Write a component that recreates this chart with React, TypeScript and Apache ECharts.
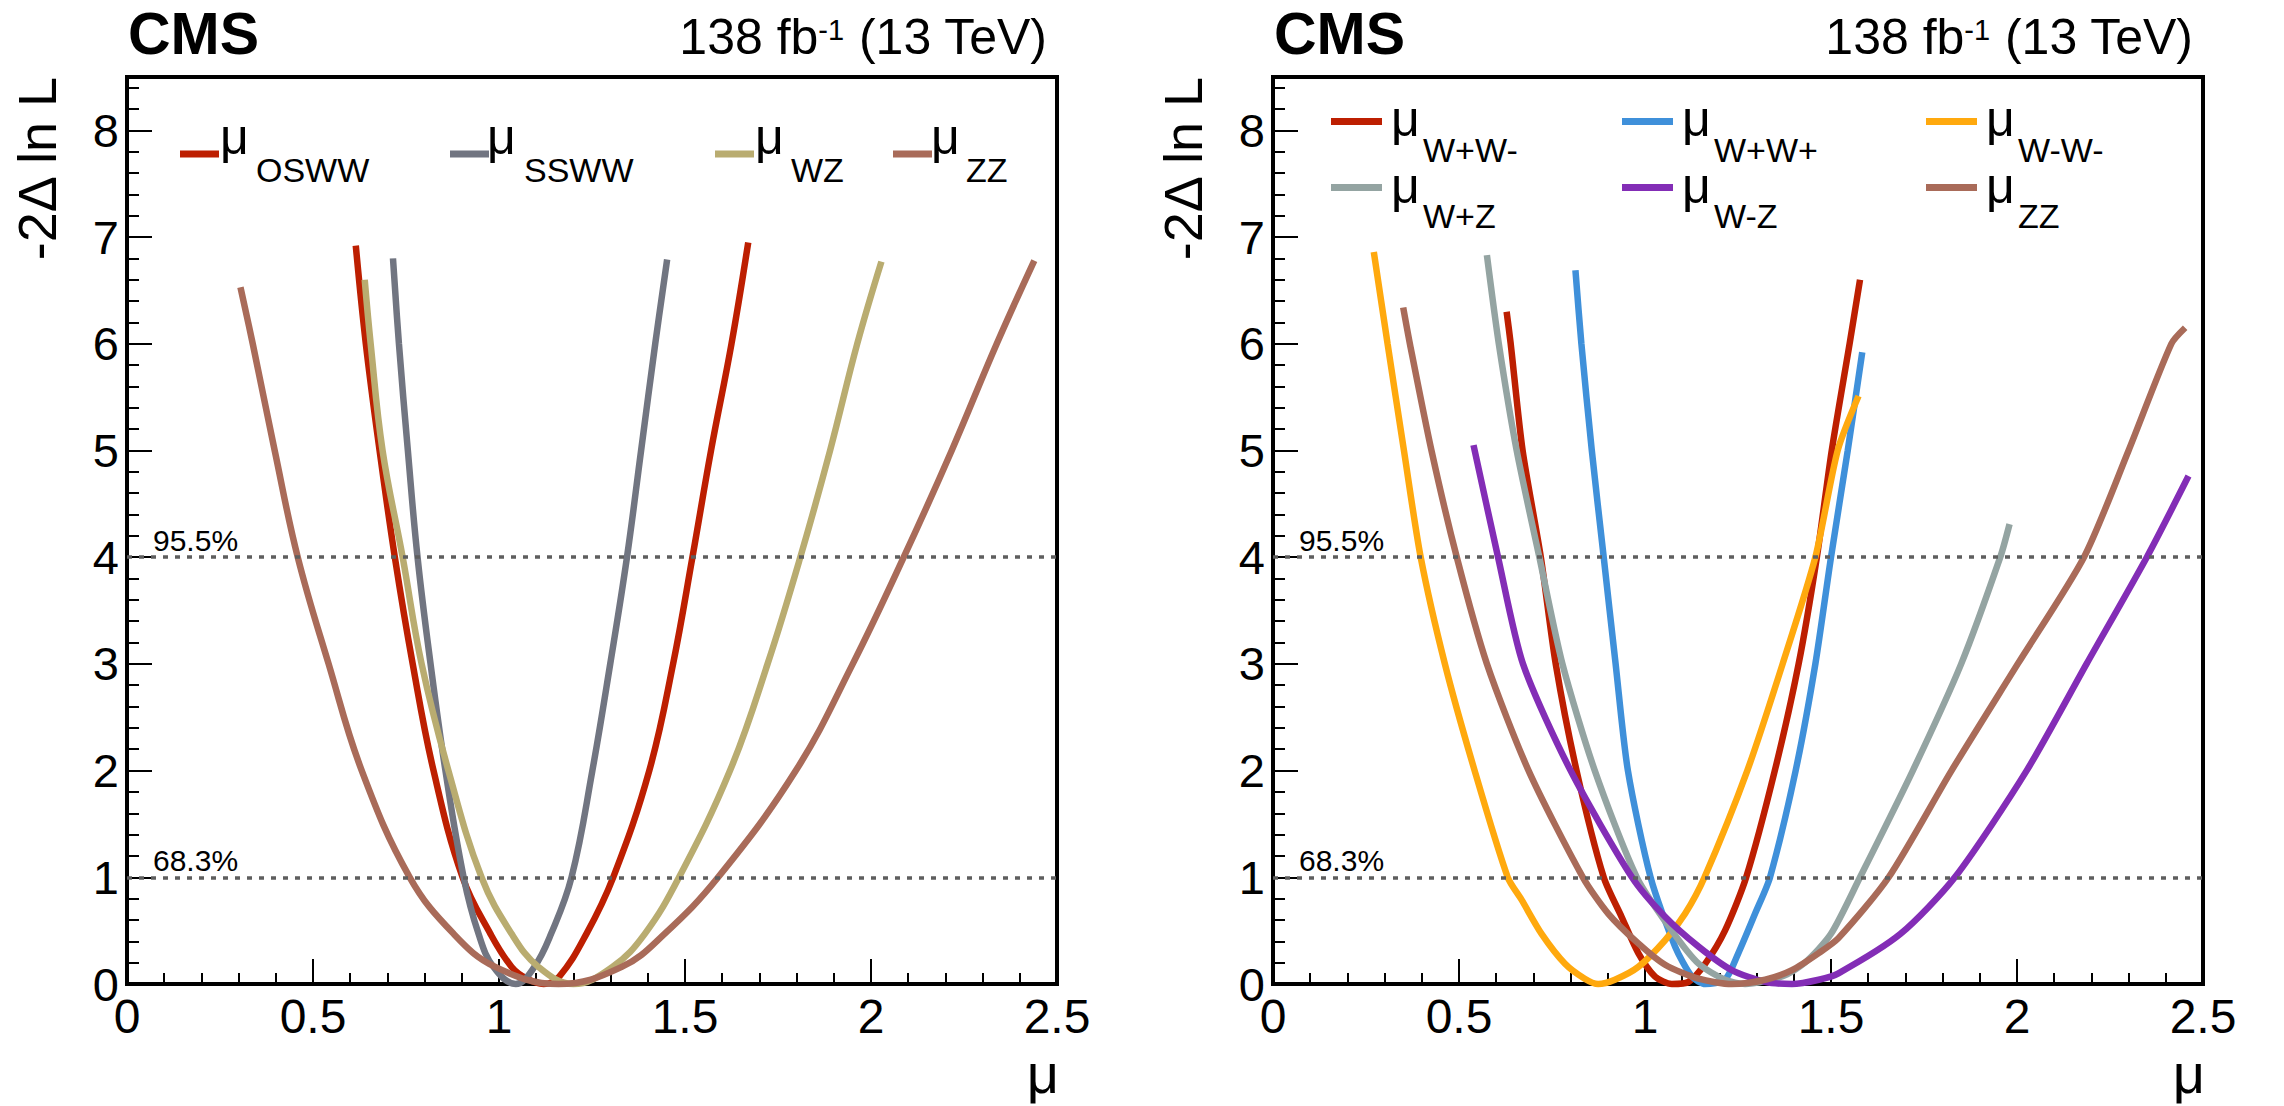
import React, { useEffect, useRef } from 'react';
import * as echarts from 'echarts';

const W = 2284;
const H = 1106;
const FONT = '"Liberation Sans", Arial, Helvetica, sans-serif';

// ---------- axis ticks / labels ----------
const xTickValues = [0, 0.5, 1, 1.5, 2, 2.5];
const xTickLabels = ['0', '0.5', '1', '1.5', '2', '2.5'];
const yTickValues = [0, 1, 2, 3, 4, 5, 6, 7, 8];
const yTickLabels = ['0', '1', '2', '3', '4', '5', '6', '7', '8'];
const yMinorTicks: number[] = [];
for (let i = 1; i <= 42; i++) if (i % 5 !== 0) yMinorTicks.push(+(i * 0.2).toFixed(1));
const clLevels = [1, 4];
const clLabels = ['68.3%', '95.5%'];

// ---------- left panel data ----------
const oswwMu = [0.615, 0.642, 0.679, 0.72, 0.768, 0.824, 0.902, 0.977, 1.034, 1.075, 1.12, 1.162, 1.235, 1.307, 1.404, 1.468, 1.52, 1.57, 1.625, 1.67];
const oswwNll = [6.92, 6.0, 5.0, 4.0, 3.0, 2.0, 1.0, 0.47, 0.16, 0.05, 0.0, 0.07, 0.47, 1.0, 2.0, 3.0, 4.0, 5.0, 6.0, 6.95];

const sswwMu = [0.715, 0.731, 0.755, 0.781, 0.816, 0.856, 0.905, 0.945, 0.985, 1.045, 1.095, 1.14, 1.195, 1.251, 1.299, 1.344, 1.382, 1.42, 1.452];
const sswwNll = [6.8, 6.0, 5.0, 4.0, 3.0, 2.0, 1.0, 0.47, 0.16, 0.0, 0.16, 0.47, 1.0, 2.0, 3.0, 4.0, 5.0, 6.0, 6.79];

const wzMu = [0.639, 0.655, 0.687, 0.741, 0.792, 0.864, 0.953, 1.034, 1.106, 1.2, 1.305, 1.392, 1.484, 1.621, 1.722, 1.81, 1.89, 1.963, 2.028];
const wzNll = [6.6, 6.0, 5.0, 4.0, 3.0, 2.0, 1.0, 0.47, 0.16, 0.0, 0.16, 0.47, 1.0, 2.0, 3.0, 4.0, 5.0, 6.0, 6.77];

const zzMu = [0.305, 0.338, 0.397, 0.459, 0.542, 0.631, 0.76, 0.878, 0.99, 1.16, 1.33, 1.445, 1.589, 1.798, 1.951, 2.088, 2.217, 2.338, 2.439];
const zzNll = [6.53, 6.0, 5.0, 4.0, 3.0, 2.0, 1.0, 0.47, 0.16, 0.0, 0.16, 0.47, 1.0, 2.0, 3.0, 4.0, 5.0, 6.0, 6.78];

// ---------- right panel data ----------
const wpwmMu = [0.628, 0.639, 0.671, 0.72, 0.76, 0.816, 0.889, 0.937, 0.982, 1.027, 1.072, 1.117, 1.162, 1.215, 1.272, 1.349, 1.413, 1.462, 1.502, 1.55, 1.578];
const wpwmNll = [6.3, 6.0, 5.0, 4.0, 3.0, 2.0, 1.0, 0.63, 0.29, 0.07, 0.0, 0.02, 0.19, 0.5, 1.0, 2.0, 3.0, 4.0, 5.0, 6.0, 6.6];

const wpwpMu = [0.813, 0.829, 0.857, 0.889, 0.921, 0.954, 1.015, 1.081, 1.126, 1.162, 1.215, 1.251, 1.296, 1.336, 1.405, 1.458, 1.5, 1.545, 1.584];
const wpwpNll = [6.69, 6.0, 5.0, 4.0, 3.0, 2.0, 1.0, 0.35, 0.07, 0.0, 0.04, 0.29, 0.66, 1.0, 2.0, 3.0, 4.0, 5.0, 5.92];

const wmwmMu = [0.271, 0.308, 0.352, 0.397, 0.462, 0.542, 0.631, 0.668, 0.722, 0.785, 0.838, 0.874, 0.919, 0.982, 1.054, 1.108, 1.16, 1.275, 1.37, 1.458, 1.518, 1.574];
const wmwmNll = [6.86, 6.0, 5.0, 4.0, 3.0, 2.0, 1.0, 0.79, 0.47, 0.19, 0.05, 0.0, 0.04, 0.16, 0.41, 0.66, 1.0, 2.0, 3.0, 4.0, 5.0, 5.51];

const wpzMu = [0.575, 0.607, 0.655, 0.716, 0.778, 0.865, 0.978, 1.072, 1.144, 1.215, 1.269, 1.368, 1.43, 1.5, 1.578, 1.72, 1.85, 1.955, 1.98];
const wpzNll = [6.83, 6.0, 5.0, 4.0, 3.0, 2.0, 1.0, 0.5, 0.19, 0.04, 0.0, 0.07, 0.2, 0.47, 1.0, 2.0, 3.0, 4.0, 4.31];

const wmzMu = [0.539, 0.605, 0.672, 0.8, 0.965, 1.054, 1.144, 1.233, 1.323, 1.395, 1.467, 1.52, 1.687, 1.833, 2.026, 2.187, 2.349, 2.461];
const wmzNll = [5.05, 4.0, 3.0, 2.0, 1.0, 0.63, 0.35, 0.13, 0.02, 0.0, 0.04, 0.1, 0.47, 1.0, 2.0, 3.0, 4.0, 4.76];

const zzRMu = [0.35, 0.368, 0.426, 0.494, 0.575, 0.687, 0.833, 0.901, 0.982, 1.054, 1.144, 1.233, 1.323, 1.395, 1.467, 1.52, 1.655, 1.824, 2.002, 2.18, 2.3, 2.415, 2.452];
const zzRNll = [6.34, 6.0, 5.0, 4.0, 3.0, 2.0, 1.0, 0.66, 0.38, 0.18, 0.05, 0.0, 0.04, 0.13, 0.29, 0.43, 1.0, 2.0, 3.0, 4.0, 5.0, 6.0, 6.15];

// ---------- series definitions ----------
const leftSubs = ['OSWW', 'SSWW', 'WZ', 'ZZ'];
const rightSubs = ['W+W-', 'W+W+', 'W-W-', 'W+Z', 'W-Z', 'ZZ'];

const COL = {
  red: '#bd1f01',
  gray: '#717581',
  tan: '#b9ac70',
  brown: '#a96b59',
  blue: '#3f90da',
  orange: '#ffa90e',
  sage: '#94a4a2',
  purple: '#832db6',
};

const leftCurves = [
  { sub: leftSubs[0], mu: oswwMu, nll: oswwNll, color: COL.red },
  { sub: leftSubs[1], mu: sswwMu, nll: sswwNll, color: COL.gray },
  { sub: leftSubs[2], mu: wzMu, nll: wzNll, color: COL.tan },
  { sub: leftSubs[3], mu: zzMu, nll: zzNll, color: COL.brown },
];
const rightCurves = [
  { sub: rightSubs[0], mu: wpwmMu, nll: wpwmNll, color: COL.red },
  { sub: rightSubs[1], mu: wpwpMu, nll: wpwpNll, color: COL.blue },
  { sub: rightSubs[2], mu: wmwmMu, nll: wmwmNll, color: COL.orange },
  { sub: rightSubs[3], mu: wpzMu, nll: wpzNll, color: COL.sage },
  { sub: rightSubs[4], mu: wmzMu, nll: wmzNll, color: COL.purple },
  { sub: rightSubs[5], mu: zzRMu, nll: zzRNll, color: COL.brown },
];

// ---------- layout ----------
const PANELS = [
  { left: 127, right: 1057 },
  { left: 1273, right: 2203 },
];
const TOP = 77;
const BOTTOM = 984;

const LEG_LEFT = {
  swatchX: [180, 450, 715, 893],
  swatchW: 39,
  swatchY: [154],
  muX: [220, 487, 755, 931],
  muY: [137],
  subX: [256, 524, 791, 966],
  subY: [170],
  cols: 4,
};
const LEG_RIGHT = {
  swatchX: [1331, 1622, 1926],
  swatchW: 51,
  swatchY: [121.5, 187.5],
  muX: [1391, 1682, 1986],
  muY: [119, 185.5],
  subX: [1423, 1714, 2018],
  subY: [150, 215.5],
  cols: 3,
};

function legendGraphics(curves: any[], L: any) {
  const els: any[] = [];
  curves.forEach((c, i) => {
    const col = i % L.cols;
    const row = Math.floor(i / L.cols);
    els.push({
      type: 'rect',
      shape: { x: L.swatchX[col], y: L.swatchY[row] - 3.5, width: L.swatchW, height: 7 },
      style: { fill: c.color },
    });
    els.push({
      type: 'text',
      x: L.muX[col],
      y: L.muY[row],
      style: { text: 'μ', fontSize: 50, fontFamily: FONT, fill: '#000', align: 'left', verticalAlign: 'middle' },
    });
    els.push({
      type: 'text',
      x: L.subX[col],
      y: L.subY[row],
      style: { text: c.sub, fontSize: 34, fontFamily: FONT, fill: '#000', align: 'left', verticalAlign: 'middle' },
    });
  });
  return els;
}

function headerGraphics(p: { left: number; right: number }) {
  return [
    {
      type: 'text',
      x: p.left + 1,
      y: 34,
      style: { text: 'CMS', fontSize: 59, fontWeight: 'bold', fontFamily: FONT, fill: '#000', align: 'left', verticalAlign: 'middle' },
    },
    {
      type: 'text',
      x: p.right - 10,
      y: 37,
      style: {
        text: '{a|138 fb}{s|-1}{a| (13 TeV)}',
        align: 'right',
        verticalAlign: 'middle',
        fill: '#000',
        rich: {
          a: { fontSize: 50, fontFamily: FONT, fill: '#000', verticalAlign: 'middle' },
          s: { fontSize: 29, fontFamily: FONT, fill: '#000', verticalAlign: 'top', padding: [3, 0, 0, 0] },
        },
      },
    },
    {
      type: 'text',
      x: p.left - 90,
      y: TOP,
      rotation: Math.PI / 2,
      style: { text: '-2Δ ln L', fontSize: 54, fontFamily: FONT, fill: '#000', align: 'right', verticalAlign: 'middle' },
    },
    {
      type: 'text',
      x: p.right + 2,
      y: 1073,
      style: { text: 'μ', fontSize: 56, fontFamily: FONT, fill: '#000', align: 'right', verticalAlign: 'middle' },
    },
  ];
}

function makeX(gridIndex: number) {
  return {
    type: 'value',
    gridIndex,
    min: 0,
    max: 2.5,
    interval: 0.5,
    axisLine: { show: true, onZero: false, lineStyle: { color: '#000', width: 4 } },
    axisTick: { show: true, inside: true, length: 25, lineStyle: { color: '#000', width: 2 } },
    minorTick: { show: true, splitNumber: 5, length: 11, lineStyle: { color: '#000', width: 2 } },
    axisLabel: {
      show: true,
      margin: 8,
      fontSize: 48,
      fontFamily: FONT,
      color: '#000',
      formatter: (v: number) => {
        const k = xTickValues.findIndex((t) => Math.abs(t - v) < 1e-6);
        return k >= 0 ? xTickLabels[k] : '';
      },
    },
    splitLine: { show: false },
    minorSplitLine: { show: false },
  };
}

function makeY(gridIndex: number) {
  return [
    {
      type: 'value',
      gridIndex,
      min: 0,
      max: 8.5,
      position: 'left',
      axisLine: { show: true, onZero: false, lineStyle: { color: '#000', width: 4 } },
      axisTick: { show: true, inside: true, length: 25, customValues: yTickValues, lineStyle: { color: '#000', width: 2 } },
      axisLabel: {
        show: true,
        margin: 8,
        fontSize: 47,
        fontFamily: FONT,
        color: '#000',
        customValues: yTickValues,
        formatter: (v: number) => {
          const k = yTickValues.findIndex((t) => Math.abs(t - v) < 1e-6);
          return k >= 0 ? yTickLabels[k] : '';
        },
      },
      splitLine: { show: false },
    },
    {
      type: 'value',
      gridIndex,
      min: 0,
      max: 8.5,
      position: 'left',
      axisLine: { show: false },
      axisTick: { show: true, inside: true, length: 12, customValues: yMinorTicks, lineStyle: { color: '#000', width: 2 } },
      axisLabel: { show: false },
      splitLine: { show: false },
    },
  ];
}

function curveSeries(curves: any[], axisIdx: number, yIdx: number, smooth: number) {
  return curves.map((c) => ({
    type: 'line',
    name: 'μ ' + c.sub,
    xAxisIndex: axisIdx,
    yAxisIndex: yIdx,
    data: c.mu.map((m: number, i: number) => [m, c.nll[i]]),
    symbol: 'none',
    showSymbol: false,
    smooth,
    clip: false,
    z: 3,
    lineStyle: { color: c.color, width: 6.5, cap: 'butt' },
    itemStyle: { color: c.color },
  }));
}

function clSeries(axisIdx: number, yIdx: number) {
  return {
    type: 'line',
    name: 'CL' + axisIdx,
    xAxisIndex: axisIdx,
    yAxisIndex: yIdx,
    data: [],
    z: 2,
    markLine: {
      silent: true,
      symbol: ['none', 'none'],
      animation: false,
      lineStyle: { color: '#5e5e5e', width: 3.5, type: [5, 7] },
      label: {
        show: true,
        position: 'insideStartTop',
        distance: [26, 2],
        fontSize: 30,
        fontFamily: FONT,
        color: '#000',
      },
      data: clLevels.map((v, i) => ({ yAxis: v, label: { formatter: clLabels[i] } })),
    },
  };
}

const option: any = {
  animation: false,
  backgroundColor: '#fff',
  textStyle: { fontFamily: FONT },
  grid: PANELS.map((p) => ({
    left: p.left,
    top: TOP,
    width: p.right - p.left,
    height: BOTTOM - TOP,
    show: true,
    borderColor: '#000',
    borderWidth: 4,
    backgroundColor: 'transparent',
    containLabel: false,
    outerBoundsMode: 'none',
  })),
  xAxis: [makeX(0), makeX(1)],
  yAxis: [...makeY(0), ...makeY(1)],
  series: [
    clSeries(0, 0),
    ...curveSeries(leftCurves, 0, 0, 0.4),
    clSeries(1, 2),
    ...curveSeries(rightCurves, 1, 2, 0.25),
  ],
  graphic: [
    ...headerGraphics(PANELS[0]),
    ...headerGraphics(PANELS[1]),
    ...legendGraphics(leftCurves, LEG_LEFT),
    ...legendGraphics(rightCurves, LEG_RIGHT),
  ],
};

export default function App() {
  const ref = useRef<HTMLDivElement>(null);
  useEffect(() => {
    document.body.style.margin = '0';
    const chart = echarts.init(ref.current as HTMLDivElement, null, { renderer: 'svg', width: W, height: H });
    chart.setOption(option);
    return () => chart.dispose();
  }, []);
  return <div ref={ref} style={{ position: 'absolute', left: 0, top: 0, width: W, height: H, background: '#fff' }} />;
}
